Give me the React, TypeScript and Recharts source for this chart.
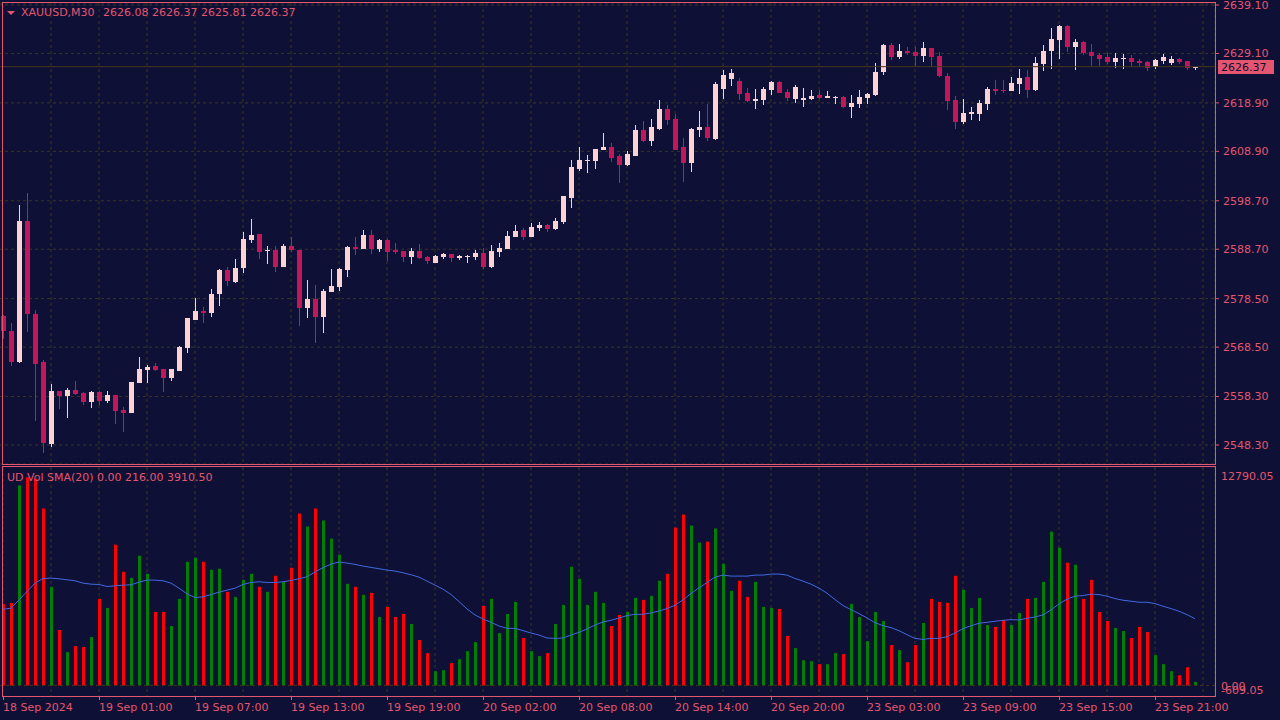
import React from 'react';
import { ComposedChart, Bar, Line, XAxis, YAxis, CartesianGrid, ReferenceLine } from 'recharts';

// XAUUSD M30 candles (oldest first)
const OPEN = [
  2574.93, 2571.83, 2565.36, 2594.53, 2575.34, 2565.43, 2548.51, 2559.45, 2558.42, 2559.66,
  2559.04, 2557.18, 2559.24, 2557.39, 2558.62, 2555.53, 2554.91, 2561.10, 2563.78, 2564.61,
  2563.99, 2562.13, 2563.58, 2568.32, 2574.10, 2576.02, 2575.61, 2579.46, 2584.42, 2581.94,
  2584.83, 2590.61, 2591.84, 2588.40, 2588.54, 2585.03, 2589.37, 2588.54, 2576.57, 2578.43,
  2574.72, 2579.87, 2580.91, 2584.42, 2589.16, 2588.75, 2591.64, 2588.75, 2590.61, 2588.54,
  2588.34, 2587.10, 2588.34, 2587.10, 2585.86, 2587.10, 2587.72, 2586.89, 2587.17, 2587.10,
  2587.92, 2585.03, 2588.13, 2588.75, 2591.22, 2592.67, 2591.22, 2593.08, 2593.70, 2592.88,
  2594.32, 2599.27, 2605.26, 2606.91, 2606.91, 2609.18, 2609.80, 2607.94, 2606.08, 2607.94,
  2613.31, 2611.04, 2613.51, 2617.64, 2615.58, 2609.80, 2606.50, 2613.31, 2613.92, 2611.45,
  2621.80, 2623.90, 2623.40, 2620.94, 2619.29, 2619.50, 2621.56, 2623.21, 2621.15, 2619.70,
  2619.50, 2619.70, 2620.53, 2619.91, 2620.04, 2620.11, 2618.05, 2618.67, 2619.91, 2620.53,
  2625.27, 2630.84, 2628.37, 2629.61, 2629.40, 2628.58, 2630.23, 2628.58, 2624.45, 2619.50,
  2614.96, 2616.61, 2616.61, 2618.67, 2621.77, 2621.56, 2621.36, 2622.80, 2624.25, 2621.56,
  2626.93, 2629.61, 2631.88, 2634.77, 2630.44, 2631.47, 2629.40, 2628.79, 2628.37, 2627.34,
  2628.03, 2628.17, 2627.55, 2627.34, 2626.31, 2627.55, 2627.13, 2627.96, 2627.55, 2626.08,
];
const HIGH = [
  2575.20, 2573.41, 2597.83, 2600.31, 2576.10, 2565.78, 2560.89, 2559.45, 2560.00, 2561.51,
  2559.24, 2559.45, 2559.45, 2559.45, 2558.62, 2556.08, 2561.31, 2566.46, 2564.81, 2565.23,
  2563.99, 2563.99, 2568.74, 2574.51, 2578.64, 2576.85, 2580.49, 2584.62, 2585.03, 2586.68,
  2592.26, 2594.94, 2591.84, 2589.37, 2589.37, 2589.78, 2591.22, 2588.54, 2582.35, 2581.32,
  2580.49, 2584.62, 2584.83, 2589.37, 2591.22, 2592.67, 2592.67, 2590.81, 2590.81, 2589.99,
  2588.34, 2588.96, 2589.78, 2587.30, 2587.51, 2587.92, 2587.72, 2587.51, 2587.51, 2588.54,
  2588.96, 2589.57, 2589.99, 2592.46, 2593.70, 2593.08, 2594.12, 2594.32, 2593.91, 2595.15,
  2599.69, 2607.11, 2609.80, 2608.15, 2609.39, 2612.69, 2610.62, 2608.35, 2608.97, 2614.34,
  2615.16, 2615.58, 2619.50, 2618.46, 2616.61, 2611.66, 2613.72, 2617.23, 2618.67, 2623.21,
  2625.69, 2625.90, 2624.00, 2621.97, 2621.77, 2622.18, 2623.42, 2623.42, 2621.77, 2622.59,
  2621.97, 2621.56, 2621.56, 2621.35, 2620.32, 2620.32, 2620.53, 2621.56, 2620.94, 2627.13,
  2631.05, 2631.26, 2631.05, 2630.43, 2630.43, 2631.46, 2630.23, 2629.40, 2625.07, 2620.32,
  2619.70, 2618.05, 2619.50, 2622.18, 2623.63, 2623.63, 2624.25, 2625.90, 2625.69, 2628.37,
  2630.85, 2634.36, 2634.98, 2634.98, 2632.09, 2631.67, 2631.06, 2629.20, 2629.20, 2629.20,
  2628.99, 2628.79, 2627.96, 2627.55, 2627.96, 2628.99, 2628.58, 2628.17, 2627.55, 2626.37,
];
const LOW = [
  2570.25, 2564.47, 2565.23, 2571.69, 2553.12, 2546.52, 2547.96, 2555.80, 2553.74, 2558.62,
  2556.63, 2555.94, 2556.56, 2556.97, 2552.64, 2550.85, 2554.91, 2561.10, 2561.10, 2563.58,
  2559.24, 2561.51, 2563.58, 2567.29, 2574.10, 2573.55, 2574.79, 2576.99, 2581.11, 2581.73,
  2583.80, 2589.99, 2586.68, 2585.65, 2584.00, 2585.03, 2588.13, 2572.86, 2574.51, 2569.35,
  2571.42, 2579.87, 2580.08, 2582.97, 2587.51, 2588.75, 2587.72, 2588.13, 2586.27, 2587.72,
  2586.07, 2585.65, 2586.68, 2585.65, 2585.86, 2586.68, 2586.07, 2586.48, 2585.86, 2586.48,
  2584.62, 2584.83, 2587.10, 2588.75, 2591.22, 2590.61, 2591.22, 2592.46, 2592.26, 2592.67,
  2593.91, 2597.21, 2604.85, 2604.43, 2605.26, 2609.18, 2606.70, 2602.37, 2605.88, 2607.94,
  2610.83, 2610.00, 2613.31, 2614.34, 2609.18, 2602.57, 2604.64, 2611.86, 2611.04, 2611.24,
  2619.70, 2622.40, 2619.50, 2619.10, 2617.64, 2618.46, 2620.53, 2620.94, 2619.29, 2618.88,
  2618.05, 2619.50, 2619.70, 2619.91, 2618.67, 2617.84, 2615.78, 2617.84, 2618.67, 2620.32,
  2624.65, 2627.75, 2627.96, 2628.78, 2626.51, 2627.34, 2626.31, 2624.24, 2617.43, 2613.51,
  2614.54, 2615.37, 2615.16, 2617.43, 2620.53, 2620.94, 2621.36, 2620.74, 2619.91, 2621.36,
  2625.48, 2625.90, 2627.96, 2629.41, 2625.69, 2628.79, 2626.52, 2626.52, 2626.93, 2626.10,
  2625.90, 2626.31, 2626.31, 2625.48, 2625.90, 2626.93, 2626.72, 2626.93, 2625.69, 2625.81,
];
const CLOSE = [
  2571.90, 2565.50, 2594.53, 2575.34, 2565.09, 2548.72, 2559.45, 2558.42, 2559.66, 2558.83,
  2557.18, 2559.24, 2557.39, 2558.62, 2555.32, 2554.91, 2561.31, 2563.99, 2564.40, 2563.78,
  2562.13, 2563.99, 2568.53, 2574.51, 2575.96, 2575.61, 2579.46, 2584.42, 2582.15, 2584.83,
  2590.81, 2591.64, 2588.13, 2588.54, 2585.03, 2589.37, 2588.54, 2576.57, 2578.43, 2574.72,
  2580.08, 2581.11, 2584.62, 2589.16, 2588.75, 2591.64, 2588.75, 2590.61, 2588.13, 2588.13,
  2587.10, 2588.34, 2586.89, 2586.27, 2587.30, 2587.72, 2586.89, 2587.30, 2587.30, 2587.92,
  2585.03, 2588.34, 2588.96, 2591.43, 2592.46, 2591.22, 2593.29, 2593.70, 2592.88, 2594.53,
  2599.69, 2605.67, 2607.11, 2607.11, 2609.39, 2609.80, 2607.53, 2606.08, 2608.35, 2613.31,
  2611.04, 2613.92, 2617.64, 2615.37, 2609.18, 2606.50, 2613.51, 2613.92, 2611.66, 2622.80,
  2624.60, 2625.00, 2620.74, 2619.29, 2619.70, 2621.77, 2623.21, 2620.94, 2619.91, 2622.18,
  2619.91, 2620.32, 2619.91, 2620.32, 2620.18, 2618.05, 2618.88, 2620.11, 2620.73, 2625.27,
  2630.84, 2628.37, 2629.61, 2629.19, 2628.58, 2630.23, 2628.37, 2624.45, 2619.29, 2614.96,
  2616.81, 2617.02, 2618.88, 2621.77, 2621.36, 2621.29, 2623.01, 2624.04, 2621.56, 2627.13,
  2629.61, 2632.09, 2634.77, 2630.44, 2631.47, 2629.20, 2628.58, 2627.96, 2627.34, 2628.17,
  2628.17, 2627.34, 2627.13, 2626.10, 2627.75, 2628.37, 2627.96, 2627.34, 2626.10, 2626.37,
];
// UD volume per candle and its 20-period SMA
const VOLUME = [
  4780, 4839, 11715, 12185, 12107, 10363, 5779, 3252, 1959, 2312,
  2253, 2841, 5074, 4545, 8247, 6661, 6308, 7601, 6543, 4310,
  4310, 3487, 5074, 7248, 7483, 7248, 6778, 6837, 5485, 5191,
  6190, 6543, 5779, 5485, 6426, 6073, 6896, 10069, 9305, 10363,
  9658, 8600, 7660, 5955, 5779, 5309, 5426, 4016, 4604, 4016,
  4192, 3605, 2664, 1900, 842, 901, 1313, 1548, 2018, 2547,
  4662, 5074, 3076, 4192, 4898, 2782, 2018, 1724, 1900, 3605,
  4721, 6954, 6249, 4721, 5485, 4839, 3487, 4133, 4310, 5133,
  5015, 5250, 6132, 6543, 9246, 10010, 9364, 8365, 8424, 9188,
  7131, 5544, 6132, 5191, 6073, 4604, 4545, 4486, 2899, 2194,
  1489, 1430, 1254, 1254, 1900, 1841, 4780, 4016, 2605, 4310,
  3781, 2370, 2077, 1371, 2370, 3663, 5074, 4898, 4839, 6426,
  5603, 4545, 5133, 3546, 3428, 3840, 3546, 4251, 5074, 5133,
  6073, 9011, 8071, 7190, 7072, 5074, 6190, 4310, 3781, 3369,
  3193, 2782, 3428, 3134, 1783, 1254, 842, 607, 1077, 216,
];
const VOL_SMA = [
  4467, 4525, 5015, 5505, 5995, 6269, 6288, 6249, 6190, 6132,
  5995, 5936, 5916, 5799, 5838, 5877, 5897, 6053, 6171, 6171,
  6132, 5995, 5701, 5368, 5152, 5191, 5328, 5466, 5583, 5701,
  5916, 6034, 6073, 6034, 6034, 6073, 6151, 6249, 6367, 6641,
  6900, 7111, 7229, 7170, 7092, 6994, 6915, 6837, 6759, 6700,
  6602, 6484, 6347, 6112, 5877, 5642, 5328, 4917, 4486, 4133,
  3898, 3703, 3487, 3350, 3350, 3213, 3076, 2958, 2782, 2762,
  2782, 2958, 3115, 3311, 3546, 3722, 3820, 3957, 4094, 4173,
  4173, 4251, 4369, 4506, 4702, 5015, 5387, 5720, 6034, 6347,
  6465, 6406, 6406, 6406, 6465, 6465, 6524, 6524, 6465, 6269,
  6112, 5936, 5701, 5407, 5035, 4682, 4447, 4212, 3957, 3683,
  3507, 3389, 3213, 2978, 2762, 2703, 2762, 2762, 2860, 3076,
  3330, 3507, 3644, 3703, 3761, 3820, 3859, 3840, 3938, 4016,
  4133, 4427, 4780, 5054, 5230, 5270, 5348, 5328, 5230, 5093,
  4995, 4937, 4878, 4878, 4800, 4643, 4506, 4349, 4153, 3910.5,
];

const PRICE_TICKS = [2639.10, 2629.10, 2618.90, 2608.90, 2598.70, 2588.70, 2578.50, 2568.50, 2558.30, 2548.30];
const PRICE_DOMAIN = [2544.38, 2639.51];
const VOL_TICKS = [12790.05, 0, -609.05];
const TIME_TICKS = [0, 12, 24, 36, 48, 60, 72, 84, 96, 108, 120, 132, 144];
const TIME_LABELS = [
  '18 Sep 2024', '19 Sep 01:00', '19 Sep 07:00', '19 Sep 13:00', '19 Sep 19:00', '20 Sep 02:00',
  '20 Sep 08:00', '20 Sep 14:00', '20 Sep 20:00', '23 Sep 03:00', '23 Sep 09:00', '23 Sep 15:00', '23 Sep 21:00',
];
const LAST_PRICE = 2626.37;

const BG = '#0e1035';
const FG = '#e4566f';
const GRID = '#3b3621';
const PRICE_LINE = '#45381c';
const BULL = '#fbd3d3';
const BEAR = '#c2185b';
const VOL_UP = '#008000';
const VOL_DN = '#ff0000';
const SMA_COLOR = '#4169e1';
const FONT = '"DejaVu Sans", sans-serif';

// one empty slot after the last candle, like the terminal leaves
const rows = Array.from({ length: OPEN.length + 1 }, (_, i) =>
  i < OPEN.length
    ? {
        i,
        open: OPEN[i], high: HIGH[i], low: LOW[i], close: CLOSE[i],
        hl: [LOW[i], HIGH[i]],
        up: CLOSE[i] >= OPEN[i],
        vol: VOLUME[i],
        sma: VOL_SMA[i],
      }
    : { i }
);
// vertical grid every 6 bars
const gridSlots = rows.filter((r) => r.i > 0 && r.i % 6 === 0).map((r) => r.i);
const volAxisTicks = [0, ...gridSlots];

const Candle = (p: any) => {
  const d = p.payload;
  if (!d || d.open == null) return <g />;
  const span = d.high - d.low || 1;
  const toY = (v: number) => p.y + ((d.high - v) / span) * p.height;
  const color = d.up ? BULL : BEAR;
  const cx = Math.floor(p.x + p.width / 2);
  const top = Math.round(toY(Math.max(d.open, d.close)));
  const bot = Math.round(toY(Math.min(d.open, d.close)));
  return (
    <g>
      <rect x={cx} y={Math.round(p.y)} width={1} height={Math.max(Math.round(p.height), 1)} fill={color} />
      <rect x={Math.round(p.x)} y={top} width={p.width} height={Math.max(bot - top, 1)} fill={color} />
    </g>
  );
};

const VolBar = (p: any) => {
  const d = p.payload;
  if (!d || d.vol == null) return <g />;
  return <rect x={Math.round(p.x)} y={p.y} width={p.width} height={p.height} fill={d.up ? VOL_UP : VOL_DN} />;
};

const TimeTick = (p: any) => {
  const idx = TIME_TICKS.indexOf(p.payload.value);
  if (idx < 0) return <g />;
  const x = Math.floor(p.x) + 0.5;
  return (
    <g>
      <line x1={x} x2={x} y1={p.y} y2={p.y + 4} stroke={FG} />
      <text x={p.x} y={p.y + 15} fill={FG} fontSize={11} fontFamily={FONT} textAnchor="start">
        {TIME_LABELS[idx]}
      </text>
    </g>
  );
};

const VolTick = (p: any) => {
  const v = p.payload.value;
  const dy = v > 0 ? 13 : v < 0 ? -2 : 4;
  return (
    <text x={p.x} y={p.y + dy} fill={FG} fontSize={11} fontFamily={FONT} textAnchor="start">
      {v.toFixed(2)}
    </text>
  );
};

const PriceTag = (p: any) => {
  const vb = p.viewBox;
  const x = vb.x + vb.width + 3;
  return (
    <g>
      <rect x={x} y={Math.round(vb.y) - 7} width={56} height={14} fill={FG} />
      <text x={x + 3} y={Math.round(vb.y) + 4} fill={BG} fontSize={11} fontFamily={FONT}>
        {LAST_PRICE.toFixed(2)}
      </text>
    </g>
  );
};

const border = (top: number, height: number): React.CSSProperties => ({
  position: 'absolute', left: 2, top, width: 1214, height, boxSizing: 'border-box',
  border: `1px solid ${FG}`, pointerEvents: 'none',
});

const textStyle: React.CSSProperties = {
  position: 'absolute', color: FG, fontSize: 11, fontFamily: FONT, lineHeight: '13px', whiteSpace: 'pre',
};

export default function App() {
  return (
    <div style={{ position: 'absolute', left: 0, top: 0, width: 1280, height: 720, background: BG, overflow: 'hidden', fontFamily: FONT }}>
      {/* price panel */}
      <div style={{ position: 'absolute', left: 0, top: 0 }}>
        <ComposedChart width={1280} height={466} data={rows} margin={{ top: 3, right: 0, bottom: 2, left: -1 }}>
          <CartesianGrid stroke={GRID} strokeDasharray="3 3" />
          <XAxis dataKey="i" type="category" hide ticks={gridSlots} interval={0} padding={{ left: 0, right: 8 }} />
          <YAxis
            orientation="right" width={65} type="number" domain={PRICE_DOMAIN} ticks={PRICE_TICKS}
            interval={0} allowDataOverflow axisLine={false} tickSize={4} tickMargin={4}
            tickLine={{ stroke: FG }} tick={{ fill: FG, fontSize: 11, fontFamily: FONT }}
            tickFormatter={(v: number) => v.toFixed(2)}
          />
          <ReferenceLine y={LAST_PRICE} stroke={PRICE_LINE} label={PriceTag} />
          <Bar dataKey="hl" barSize={5} shape={Candle} isAnimationActive={false} />
        </ComposedChart>
      </div>

      {/* volume panel */}
      <div style={{ position: 'absolute', left: 0, top: 467 }}>
        <ComposedChart width={1280} height={252} data={rows} margin={{ top: 0, right: 0, bottom: 0, left: -1 }}>
          <CartesianGrid stroke={GRID} strokeDasharray="3 3" horizontal={false} />
          <XAxis
            dataKey="i" type="category" ticks={volAxisTicks} interval={0} height={23} padding={{ left: 0, right: 8 }}
            axisLine={false} tickLine={false} tickSize={0} tickMargin={0} tick={TimeTick}
          />
          <YAxis
            orientation="right" width={65} type="number" domain={[VOL_TICKS[2], VOL_TICKS[0]]} ticks={VOL_TICKS}
            interval={0} allowDataOverflow axisLine={false} tickLine={false} tickSize={4} tickMargin={2} tick={VolTick}
          />
          <ReferenceLine y={0} stroke={GRID} strokeDasharray="3 3" />
          <Bar dataKey="vol" barSize={3} shape={VolBar} isAnimationActive={false} />
          <Line dataKey="sma" type="linear" stroke={SMA_COLOR} strokeWidth={1} dot={false} activeDot={false} isAnimationActive={false} />
        </ComposedChart>
      </div>

      <div style={border(2, 463)} />
      <div style={border(466, 231)} />

      {/* headers */}
      <div style={{ position: 'absolute', left: 7, top: 11, width: 0, height: 0, borderLeft: '4px solid transparent', borderRight: '4px solid transparent', borderTop: `4px solid ${FG}` }} />
      <div style={{ ...textStyle, left: 21, top: 6 }}>XAUUSD,M30</div>
      <div style={{ ...textStyle, left: 103, top: 6 }}>2626.08 2626.37 2625.81 2626.37</div>
      <div style={{ ...textStyle, left: 7, top: 471 }}>UD Vol SMA(20) 0.00 216.00 3910.50</div>
    </div>
  );
}
